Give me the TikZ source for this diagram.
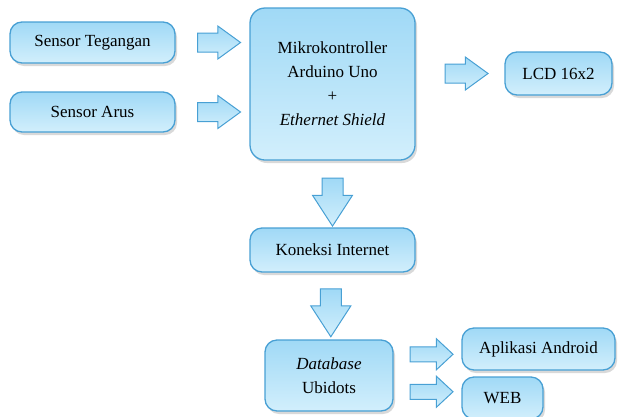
\documentclass[tikz,border=0pt]{standalone}
\usepackage{fontspec}
\setmainfont{Liberation Serif}
\usetikzlibrary{shapes.arrows,shadows,calc}

\definecolor{garis}{RGB}{72,160,212}
\definecolor{atas}{RGB}{160,217,246}
\definecolor{bawah}{RGB}{210,239,252}

\tikzset{
    kotak/.style={draw=garis,line width=1.3pt,rounded corners=12pt,
        top color=atas,bottom color=bawah,align=center,inner sep=0pt,
        drop shadow={shadow xshift=2pt,shadow yshift=-3pt,opacity=.3},
        font=\fontsize{17}{24}\selectfont},
    panah/.style={single arrow,draw=garis,line width=1pt,
        top color=atas,bottom color=bawah,inner xsep=0pt,
        inner ysep=9pt,single arrow head extend=7pt,
        single arrow tip angle=72,minimum height=43pt},
    turun/.style={panah,rotate=-90,inner ysep=10pt,
        single arrow head extend=9.5pt,single arrow tip angle=66,
        minimum height=48pt},
    kecil/.style={panah,inner ysep=7pt,single arrow head extend=8pt,
        single arrow tip angle=86}
}

\begin{document}
\begin{tikzpicture}[x=1pt,y=-1pt]
    \useasboundingbox (0,0) rectangle (618,416);

    % blok-blok sistem
    \node[kotak,minimum width=165pt,minimum height=41pt] (st) at (92.5,42.5) {Sensor Tegangan};
    \node[kotak,minimum width=165pt,minimum height=40pt] (sa) at (92.5,112) {Sensor Arus};
    \node[kotak,minimum width=165pt,minimum height=152pt,rounded corners=15pt] (mcu) at (332.5,84)
        {Mikrokontroller\\Arduino Uno\\+\\\textit{Ethernet Shield}};
    \node[kotak,minimum width=107pt,minimum height=43pt] (lcd) at (558.5,73.5) {LCD 16x2};
    \node[kotak,minimum width=165pt,minimum height=44pt] (inet) at (332.5,250) {Koneksi Internet};
    \node[kotak,minimum width=128pt,minimum height=71pt] (db) at (329,375.5) {\textit{Database}\\Ubidots};
    \node[kotak,minimum width=153pt,minimum height=42pt] (app) at (538.5,349) {Aplikasi Android};
    \node[kotak,minimum width=81pt,minimum height=42pt] (web) at (502.5,398) {WEB};

    % panah blok
    \node[panah] (p1) at ($(st.east)!.5!(st.east -| mcu.west)$) {};
    \node[panah] (p2) at ($(sa.east)!.5!(sa.east -| mcu.west)$) {};
    \node[panah] (p3) at ($(lcd.west -| mcu.east)!.5!(lcd.west)$) {};
    \node[turun] (p4) at ($(mcu.south)!.5!(inet.north)$) {};
    \node[turun] (p5) at ($(inet.south)!.48!(db.north)$) {};
    \node[kecil] (p6) at ($(db.east)!.5!(app.west)+(0,-8)$) {};
    \node[kecil] (p7) at ($(db.east)!.5!(web.west)+(0,5)$) {};
\end{tikzpicture}
\end{document}
